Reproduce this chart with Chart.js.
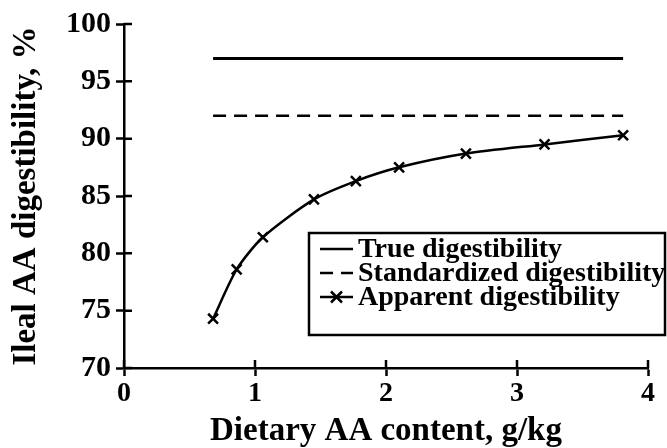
<!DOCTYPE html>
<html>
<head>
<meta charset="utf-8">
<script src="https://cdn.jsdelivr.net/npm/chart.js@4.4.0/dist/chart.umd.min.js"></script>
<style>
  html, body { margin: 0; padding: 0; background: #fff; }
  #wrap { width: 667px; height: 448px; }
</style>
</head>
<body>
<div id="wrap"><canvas id="chart"></canvas></div>
<script>
const FONT = '"Liberation Serif", "Times New Roman", serif';

const labels = ['True digestibility', 'Standardized digestibility', 'Apparent digestibility'];

// dietary AA content, g/kg
const contentX = [0.68, 0.86, 1.06, 1.45, 1.77, 2.10, 2.61, 3.21, 3.81];
const apparentY = [74.3, 78.6, 81.4, 84.7, 86.3, 87.5, 88.7, 89.5, 90.3];

const lineX = [0.68, 3.81];
const trueY = [97, 97];
const standardizedY = [92, 92];

const xTicks = [0, 1, 2, 3, 4];
const yTicks = [70, 75, 80, 85, 90, 95, 100];

function pts(xs, ys) {
  return xs.map((x, i) => ({ x: x, y: ys[i] }));
}

// ticks that cross the axis line (inner half)
const innerTicks = {
  id: 'innerTicks',
  afterDraw(chart) {
    const ctx = chart.ctx;
    const xs = chart.scales.x, ys = chart.scales.y;
    ctx.save();
    ctx.strokeStyle = '#000';
    ctx.lineWidth = 2.5;
    ctx.beginPath();
    xTicks.forEach(v => {
      const px = xs.getPixelForValue(v);
      ctx.moveTo(px, xs.top);
      ctx.lineTo(px, xs.top - 8);
    });
    yTicks.forEach(v => {
      const py = ys.getPixelForValue(v);
      ctx.moveTo(ys.right, py);
      ctx.lineTo(ys.right + 8, py);
    });
    ctx.stroke();
    ctx.restore();
  }
};

// boxed legend inside the plot area
const boxLegend = {
  id: 'boxLegend',
  afterDraw(chart) {
    const ctx = chart.ctx;
    const a = chart.chartArea;
    const left = a.left + 185, top = a.top + 209, w = 356, h = 102;
    ctx.save();
    ctx.fillStyle = '#fff';
    ctx.fillRect(left, top, w, h);
    ctx.strokeStyle = '#000';
    ctx.lineWidth = 2.5;
    ctx.strokeRect(left, top, w, h);
    ctx.font = 'bold 28px ' + FONT;
    ctx.textBaseline = 'middle';
    ctx.fillStyle = '#000';
    chart.data.datasets.forEach((ds, i) => {
      const y = top + 16 + i * 24;
      const x0 = left + 11, x1 = left + 44;
      ctx.beginPath();
      ctx.setLineDash(ds.borderDash || []);
      ctx.lineWidth = 2.5;
      ctx.moveTo(x0, y);
      ctx.lineTo(x1, y);
      ctx.stroke();
      ctx.setLineDash([]);
      if (ds.pointStyle === 'crossRot') {
        const r = 5.5;
        const cx = (x0 + x1) / 2;
        ctx.beginPath();
        ctx.moveTo(cx - r, y - r); ctx.lineTo(cx + r, y + r);
        ctx.moveTo(cx - r, y + r); ctx.lineTo(cx + r, y - r);
        ctx.stroke();
      }
      ctx.fillText(ds.label, left + 49, y + 1);
    });
    ctx.restore();
  }
};

new Chart(document.getElementById('chart').getContext('2d'), {
  type: 'scatter',
  data: {
    datasets: [
      {
        label: labels[0],
        data: pts(lineX, trueY),
        showLine: true,
        borderColor: '#000',
        borderWidth: 3,
        pointRadius: 0,
      },
      {
        label: labels[1],
        data: pts(lineX, standardizedY),
        showLine: true,
        borderColor: '#000',
        borderWidth: 2.5,
        borderDash: [13, 8],
        pointRadius: 0,
      },
      {
        label: labels[2],
        data: pts(contentX, apparentY),
        showLine: true,
        tension: 0.25,
        borderColor: '#000',
        borderWidth: 2.5,
        pointStyle: 'crossRot',
        pointRadius: 7,
        pointBorderWidth: 2.5,
        pointBorderColor: '#000',
      },
    ],
  },
  options: {
    responsive: true,
    maintainAspectRatio: false,
    animation: false,
    layout: { padding: { top: 24, right: 19, left: 0, bottom: 0 } },
    plugins: {
      legend: { display: false },
      tooltip: { enabled: false },
    },
    scales: {
      x: {
        type: 'linear',
        min: 0,
        max: 4,
        afterBuildTicks: s => { s.ticks = xTicks.map(v => ({ value: v })); },
        afterFit: s => { s.height = 80; },
        grid: { drawOnChartArea: false, tickLength: 8, tickWidth: 2.5, tickColor: '#000' },
        border: { color: '#000', width: 2.5 },
        ticks: { color: '#000', padding: 1, font: { family: FONT, size: 28, weight: 'bold' } },
        title: {
          display: true,
          text: 'Dietary AA content, g/kg',
          color: '#000',
          padding: { top: 4, bottom: 0 },
          font: { family: FONT, size: 33, weight: 'bold', lineHeight: 1 },
        },
      },
      y: {
        min: 70,
        max: 100,
        afterBuildTicks: s => { s.ticks = yTicks.map(v => ({ value: v })); },
        afterFit: s => { s.width = 124; },
        grid: { drawOnChartArea: false, tickLength: 8, tickWidth: 2.5, tickColor: '#000' },
        border: { color: '#000', width: 2.5 },
        ticks: { color: '#000', padding: 5, font: { family: FONT, size: 30, weight: 'bold' } },
        title: {
          display: true,
          text: 'Ileal AA digestibility, %',
          color: '#000',
          padding: { top: 10, bottom: 0 },
          font: { family: FONT, size: 33, weight: 'bold', lineHeight: 1 },
        },
      },
    },
  },
  plugins: [innerTicks, boxLegend],
});
</script>
</body>
</html>
